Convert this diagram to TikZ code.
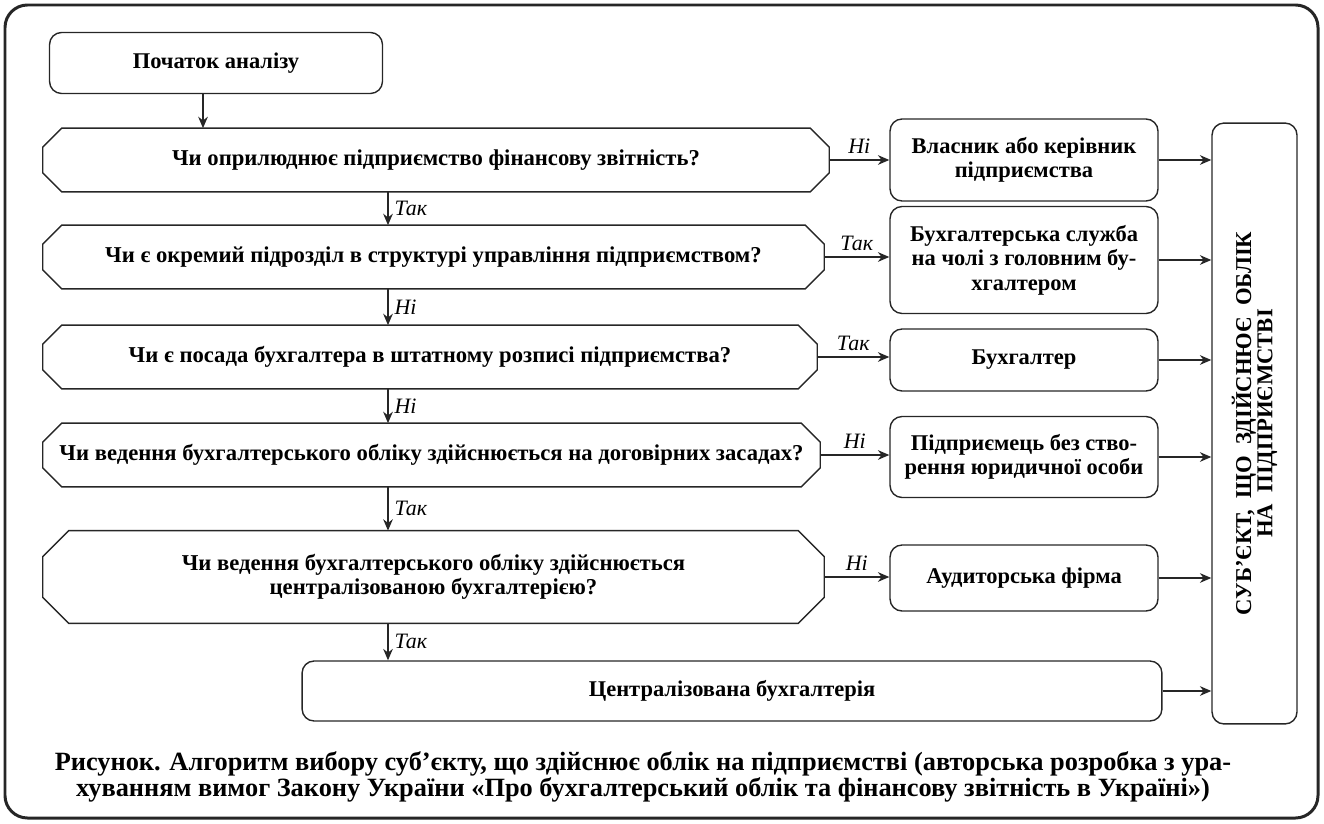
\documentclass[tikz,border=0pt]{standalone}
\usepackage{fontspec}
\setmainfont{Liberation Serif}
\usetikzlibrary{arrows.meta}

\tikzset{
  qbox/.style={rectangle, inner sep=0pt, align=center,
    font=\bfseries\fontsize{12.9}{14}\selectfont,
    append after command={\pgfextra{\let\qn\tikzlastnode
      \draw [black!85, line width=0.8pt]
        ([xshift=#1]\qn.north west) -- ([xshift=-#1]\qn.north east)
        -- ([yshift=-#1]\qn.north east) -- ([yshift=#1]\qn.south east)
        -- ([xshift=-#1]\qn.south east) -- ([xshift=#1]\qn.south west)
        -- ([yshift=#1]\qn.south west) -- ([yshift=-#1]\qn.north west) -- cycle;}}},
  qbox/.default=0.38cm,
  rbox/.style={rectangle, rounded corners=0.24cm, draw=black!85,
    line width=0.8pt, inner sep=0pt, align=center,
    font=\bfseries\fontsize{12.8}{14}\selectfont},
  arr/.style={-{Stealth[length=6.5pt,width=5.5pt]}, line width=0.8pt, draw=black!85},
  lbl/.style={font=\itshape\fontsize{12.5}{13}\selectfont}
}

\begin{document}
\begin{tikzpicture}[x=0.02cm,y=-0.02cm]
  \useasboundingbox (0,0) rectangle (1324,824);
  \draw [black!85, line width=1.7pt, rounded corners=0.45cm] (5,5) rectangle (1318,818);

  % left column
  \node (start) [rbox, minimum width=6.66cm, minimum height=1.22cm] at (216,63) {Початок аналізу};
  \node (q1) [qbox, minimum width=15.72cm, minimum height=1.26cm] at (436,160)
    {Чи оприлюднює підприємство фінансову звітність?};
  \node (q2) [qbox, minimum width=15.62cm, minimum height=1.26cm] at (433.5,257)
    {Чи є окремий підрозділ в структурі управління підприємством?};
  \node (q3) [qbox, minimum width=15.48cm, minimum height=1.26cm] at (430,357)
    {Чи є посада бухгалтера в штатному розписі підприємства?};
  \node (q4) [qbox, minimum width=15.54cm, minimum height=1.26cm] at (431.5,455)
    {Чи ведення бухгалтерського обліку здійснюється на договірних засадах?};
  \node (q5) [qbox=0.52cm, minimum width=15.62cm, minimum height=1.84cm] at (433.5,577)
    {Чи ведення бухгалтерського обліку здійснюється\\централізованою бухгалтерією?};
  \node (centr) [rbox, minimum width=17.2cm, minimum height=1.2cm] at (732,691) {Централізована бухгалтерія};

  % right column
  \node (b1) [rbox, minimum width=5.36cm, minimum height=1.64cm] at (1024,160) {Власник або керівник\\підприємства};
  \node (b2) [rbox, minimum width=5.36cm, minimum height=2.14cm] at (1024,260) {Бухгалтерська служба\\на чолі з головним бу-\\хгалтером};
  \node (b3) [rbox, minimum width=5.36cm, minimum height=1.24cm] at (1024,360) {Бухгалтер};
  \node (b4) [rbox, minimum width=5.36cm, minimum height=1.62cm] at (1024,457) {Підприємець без ство-\\рення юридичної особи};
  \node (b5) [rbox, minimum width=5.36cm, minimum height=1.32cm] at (1024,578) {Аудиторська фірма};

  \node (subj) [rbox, minimum width=1.7cm, minimum height=12.02cm] at (1254.5,423.5) {};
  \node (subjtext) [rotate=90, align=center, inner sep=0pt,
    font=\bfseries\fontsize{12.9}{12.2}\selectfont] at (subj)
    {СУБ’ЄКТ,~ ЩО~ ЗДІЙСНЮЄ~ ОБЛІК\\НА~ ПІДПРИЄМСТВІ};

  \coordinate (col) at (388,0);

  % connectors
  \draw [arr] ([xshift=-0.26cm]start.south) -- ([xshift=-0.26cm]start.south |- q1.north);
  \draw [arr] (q1.south -| col) -- (q2.north -| col) node [lbl, midway, right] {Так};
  \draw [arr] (q2.south -| col) -- (q3.north -| col) node [lbl, midway, right] {Ні};
  \draw [arr] (q3.south -| col) -- (q4.north -| col) node [lbl, midway, right] {Ні};
  \draw [arr] (q4.south -| col) -- (q5.north -| col) node [lbl, midway, right] {Так};
  \draw [arr] (q5.south -| col) -- (centr.north -| col) node [lbl, midway, right] {Так};

  \draw [arr] (q1.east) -- (b1.west |- q1.east) node [lbl, midway, above] {Ні};
  \draw [arr] (q2.east) -- (b2.west |- q2.east) node [lbl, midway, above] {Так};
  \draw [arr] (q3.east) -- (b3.west |- q3.east) node [lbl, midway, above] {Так};
  \draw [arr] (q4.east) -- (b4.west |- q4.east) node [lbl, midway, above] {Ні};
  \draw [arr] (q5.east) -- (b5.west |- q5.east) node [lbl, midway, above] {Ні};

  \foreach \b in {b1,b2,b3,b4,b5,centr}
    \draw [arr] (\b) -- (subj.west |- \b);

  % caption
  \node (caption) [align=center, inner sep=0pt, font=\bfseries\fontsize{15}{11.5}\selectfont] at (643,777)
    {Рисунок. Алгоритм вибору суб’єкту, що здійснює облік на підприємстві (авторська розробка з ура-\\хуванням вимог Закону України «Про бухгалтерський облік та фінансову звітність в Україні»)};
\end{tikzpicture}
\end{document}
